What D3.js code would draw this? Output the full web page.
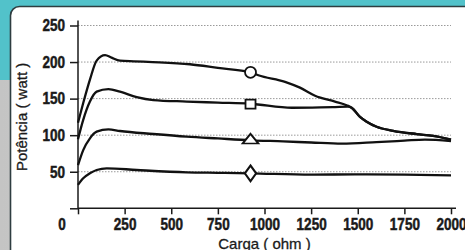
<!DOCTYPE html>
<html>
<head>
<meta charset="utf-8">
<script src="https://cdn.jsdelivr.net/npm/d3@7"></script>
<style>
  body { margin: 0; }
</style>
</head>
<body>
<script>
// Chart data
let yTicks = [0, 50, 100, 150, 200, 250];
let xTicks = [0, 250, 500, 750, 1000, 1250, 1500, 1750, 2000];

// circle series
let loadA  = [0, 28, 64, 100, 145, 180, 225, 300, 400, 600, 750, 925, 967, 1110, 1190, 1271, 1378, 1440, 1467, 1512, 1548, 1601, 1690, 1816, 1904, 2000];
let powerA = [117, 144, 176, 202, 209.5, 206, 202, 201, 200, 197, 192, 186, 182, 173, 165, 154, 146, 141, 137.5, 125, 118.5, 111.5, 106, 101.5, 99, 94];
// square series
let loadB  = [0, 28, 64, 100, 163, 225, 315, 404, 583, 750, 925, 1147, 1300, 1378, 1448, 1467, 1512, 1548, 1601, 1690, 1816, 1904, 2000];
let powerB = [94.5, 121, 146, 159.5, 163, 159.5, 152, 148, 146, 144.5, 143, 137.5, 138, 138.5, 139, 137.5, 125, 118.5, 111.5, 106, 101.5, 99, 94];
// triangle series
let loadC  = [0, 28, 64, 100, 163, 225, 404, 583, 750, 925, 1100, 1250, 1415, 1600, 1750, 1860, 2000];
let powerC = [59, 79.6, 95.7, 104.8, 108, 105.7, 101.6, 98, 95.5, 93, 91.5, 90, 88.5, 90.5, 92.5, 94, 92];
// diamond series
let loadD  = [0, 28, 64, 100, 154, 315, 583, 750, 925, 1250, 1500, 1750, 2000];
let powerD = [32, 41, 47.9, 52.4, 54.7, 52.4, 49.2, 48.5, 47.8, 46, 46.5, 46, 45];

// marker positions
let markerLoad = 925;
let markerPower = [186, 142.5, 93, 47.8];
let markerShapes = ["circle", "square", "triangle", "diamond"];

let svgWidth = 465;
let svgHeight = 250;
let squeeze = 0.82; // narrow the bold digits like a condensed face
let ink = "#1a1a1a";

let svg = d3.select("body")
    .append("svg")
    .attr("width", svgWidth)
    .attr("height", svgHeight);

// background: gray strip, teal top, white panel
let defs = svg.append("defs");
let grad = defs.append("linearGradient").attr("id", "strip");
grad.append("stop").attr("offset", "0%").attr("stop-color", "#c4c4c4");
grad.append("stop").attr("offset", "80%").attr("stop-color", "#d6d6d6");
grad.append("stop").attr("offset", "100%").attr("stop-color", "#a9a9a9");

svg.append("rect").attr("width", svgWidth).attr("height", svgHeight).attr("fill", "url(#strip)");
svg.append("rect").attr("width", svgWidth).attr("height", 80).attr("fill", "#52c2ca");
svg.append("rect")
    .attr("x", 10.5).attr("y", 6.5)
    .attr("width", 480).attr("height", 270)
    .attr("rx", 9)
    .attr("fill", "#ffffff")
    .attr("stroke", "#2e3d40")
    .attr("stroke-width", 1.6);

// scales
let x = d3.scaleLinear().domain([0, 2000]).range([78, 451]);
let y = d3.scaleLinear().domain([0, 250]).range([208.3, 25.5]);

// gridlines
svg.append("g")
    .selectAll("line")
    .data(yTicks.filter(d => d > 0))
    .enter()
    .append("line")
    .attr("x1", x(0))
    .attr("x2", x(2000))
    .attr("y1", d => y(d))
    .attr("y2", d => y(d))
    .attr("stroke", "#9a9a9a")
    .attr("stroke-width", 1)
    .attr("stroke-dasharray", "1.5,1.5");

// axes
let yAxis = d3.axisLeft(y)
    .tickValues(yTicks)
    .tickSize(8)
    .tickSizeOuter(0)
    .tickPadding(5)
    .tickFormat(d => d === 0 ? "" : d);
let yG = svg.append("g")
    .attr("transform", `translate(${x(0)},0)`)
    .call(yAxis);
yG.select(".domain").attr("d", `M0,${y(250) - 5}V${y(0)}`);
yG.selectAll(".tick text")
    .attr("x", -13 / squeeze)
    .attr("transform", `scale(${squeeze},1)`);

let xAxis = d3.axisBottom(x)
    .tickValues(xTicks)
    .tickSize(6)
    .tickSizeOuter(0)
    .tickPadding(4)
    .tickFormat(d => d === 0 ? "" : d);
let xG = svg.append("g")
    .attr("transform", `translate(0,${y(0)})`)
    .call(xAxis);
xG.select(".domain").attr("d", `M${x(0)},0H${x(2000) + 5}`);
xG.selectAll(".tick text")
    .attr("transform", `scale(${squeeze},1)`);

svg.selectAll(".domain, .tick line")
    .attr("stroke", ink)
    .attr("stroke-width", 1.5);

// tick label styling (heavy, condensed look)
function heavy(sel) {
    sel.attr("font-family", "'Liberation Sans', Arial, sans-serif")
        .attr("font-weight", "700")
        .attr("font-size", 16.5)
        .attr("fill", ink)
        .attr("stroke", ink)
        .attr("stroke-width", 0.5);
}
svg.selectAll(".tick text").call(heavy);

// lone "0" at the corner
svg.append("text")
    .attr("transform", `translate(62,${y(0) + 10}) scale(${squeeze},1)`)
    .attr("dy", "0.71em")
    .attr("text-anchor", "middle")
    .text("0")
    .call(heavy);

// curves
let line = d3.line()
    .x(d => x(d[0]))
    .y(d => y(d[1]))
    .curve(d3.curveMonotoneX);

let series = [
    d3.zip(loadA, powerA),
    d3.zip(loadB, powerB),
    d3.zip(loadC, powerC),
    d3.zip(loadD, powerD)
];

svg.append("g")
    .selectAll("path")
    .data(series)
    .enter()
    .append("path")
    .attr("d", line)
    .attr("fill", "none")
    .attr("stroke", "#111")
    .attr("stroke-width", 2.3)
    .attr("stroke-linejoin", "round");

// markers
let symbolFor = {
    circle: d3.symbol().type(d3.symbolCircle).size(95),
    square: d3.symbol().type(d3.symbolSquare).size(100),
    triangle: d3.symbol().type(d3.symbolTriangle).size(75),
    diamond: d3.symbol().type(d3.symbolDiamond).size(70)
};

svg.append("g")
    .selectAll("path")
    .data(markerPower)
    .enter()
    .append("path")
    .attr("d", (d, i) => symbolFor[markerShapes[i]]())
    .attr("transform", (d, i) => {
        let sx = markerShapes[i] === "diamond" ? 1.25 : (markerShapes[i] === "triangle" ? 1.2 : 1);
        let sy = markerShapes[i] === "square" ? 0.9 : (markerShapes[i] === "triangle" ? 0.85 : 1);
        return `translate(${x(markerLoad)},${y(d)}) scale(${sx},${sy})`;
    })
    .attr("fill", "#fff")
    .attr("stroke", "#111")
    .attr("stroke-width", 1.8);

// axis titles
function title(sel) {
    sel.attr("font-family", "'Liberation Sans', Arial, sans-serif")
        .attr("font-size", 15)
        .attr("fill", ink)
        .attr("stroke", ink)
        .attr("stroke-width", 0.3)
        .attr("text-anchor", "middle");
}

svg.append("text")
    .attr("transform", `translate(27,${(y(0) + y(250)) / 2}) rotate(-90)`)
    .text("Potência ( watt )")
    .call(title);

svg.append("text")
    .attr("x", (x(0) + x(2000)) / 2)
    .attr("y", 249)
    .text("Carga ( ohm )")
    .call(title);
</script>
</body>
</html>
